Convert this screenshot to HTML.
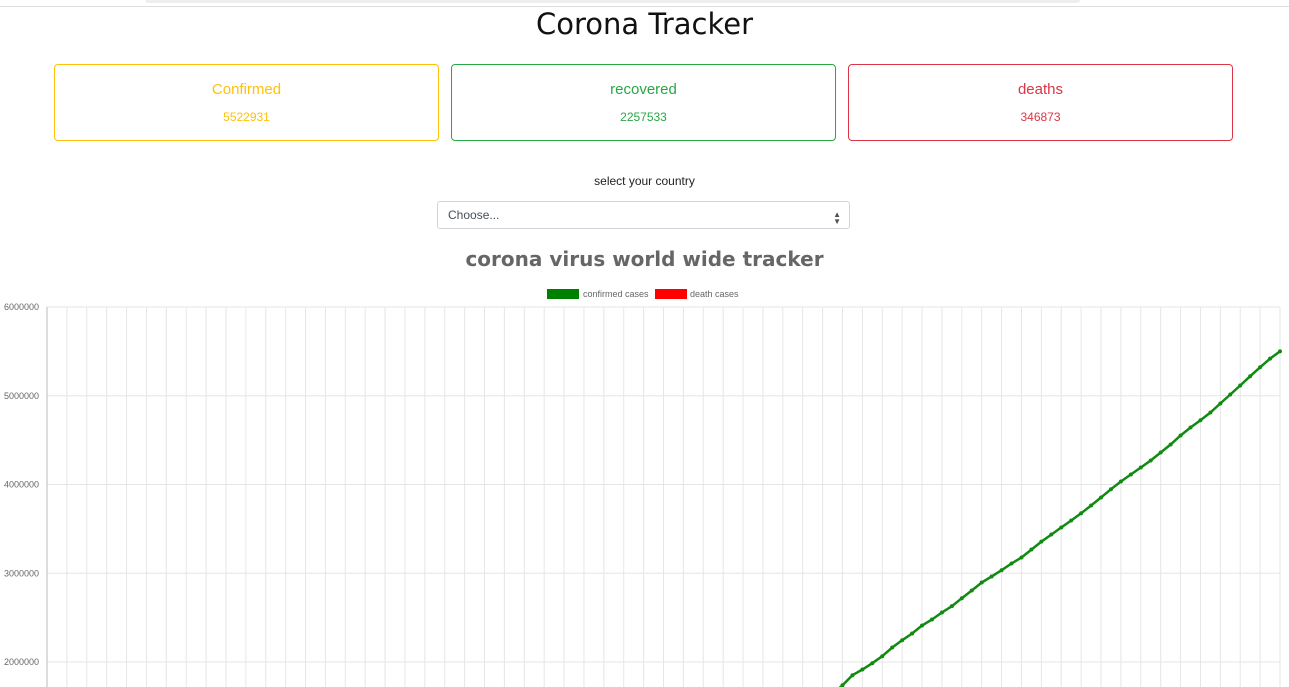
<!DOCTYPE html>
<html style="overflow:hidden;height:687px"><head><meta charset="utf-8">
<style>
body{margin:0;width:1289px;height:687px;overflow:hidden;background:#fff;font-family:"Liberation Sans",sans-serif;position:relative}
.abs{position:absolute}
.card{position:absolute;top:64px;width:385px;height:77px;border:1px solid;border-radius:4px;text-align:center;box-sizing:border-box}
.card .t{position:absolute;top:16px;width:100%;font-size:15px}
.card .v{position:absolute;top:45px;width:100%;font-size:12px}
</style></head><body>
<div class="abs" style="left:145px;top:0;width:935px;height:3px;background:#eee;border-radius:0 0 6px 6px"></div>
<div class="abs" style="left:0;top:6px;width:1289px;height:1px;background:#ddd"></div>
<div class="abs" style="left:0;top:7px;width:1289px;text-align:center;font-size:29px;color:#111;font-family:'DejaVu Sans',sans-serif">Corona Tracker</div>
<div class="card" style="left:54px;border-color:#ffc107;color:#ffc107"><div class="t">Confirmed</div><div class="v">5522931</div></div>
<div class="card" style="left:451px;border-color:#28a745;color:#28a745"><div class="t">recovered</div><div class="v">2257533</div></div>
<div class="card" style="left:848px;border-color:#dc3545;color:#dc3545"><div class="t">deaths</div><div class="v">346873</div></div>
<div class="abs" style="left:0;top:174px;width:1289px;text-align:center;font-size:12px;color:#222">select your country</div>
<div class="abs" style="left:437px;top:201px;width:411px;height:26px;border:1px solid #ced4da;border-radius:3px;font-size:12px;color:#495057;line-height:26px;box-sizing:content-box"><span style="margin-left:10px">Choose...</span><span style="position:absolute;right:8px;top:0;font-size:8px">&#9650;</span><span style="position:absolute;right:8px;top:7px;font-size:8px">&#9660;</span></div>
<div class="abs" style="left:0;top:247px;width:1289px;text-align:center;font-size:20px;font-weight:bold;color:#666;font-family:'DejaVu Sans',sans-serif">corona virus world wide tracker</div>
<svg class="abs" style="left:0;top:0;overflow:hidden" width="1289" height="687" id="chart">
<g id="legend" font-size="9" fill="#666" font-family="Liberation Sans,sans-serif">
<rect x="547" y="289" width="32" height="10" fill="green"/>
<text x="583" y="297">confirmed cases</text>
<rect x="655" y="289" width="32" height="10" fill="red"/>
<text x="690" y="297">death cases</text>
</g>
</svg>
<script>
const confirmedK=[0.6,0.6,0.9,1.4,2.1,2.9,5.6,6.2,8.2,9.9,
12,17,20,24,28,31,34,37,40,43,45,45,60,67,69,71,73,75,75,76,76,78,78,79,80,81,82,84,86,
88,90,93,95,98,102,106,110,114,119,126,126,146,157,168,182,198,219,245,272,305,337,379,418,468,530,594,661,721,782,860,
935,1016,1095,1177,1251,1321,1397,1470,1555,1640,
1738,1851,1915,1986,2065,2163,2245,2321,2411,2479,2558,2629,2719,2806,2896,2963,3034,3110,3177,3267,3357,3436,3515,3594,3676,3763,3853,3947,4034,4113,4192,4270,4361,4451,4552,4642,4724,4811,4913,5014,5115,5220,5321,5419,5500];
const deathsK=[0,0,0,0,0,0,0,0,0,0,0,0,0,0,1,1,1,1,1,1,1,1,1,1,1,2,2,2,2,2,2,2,2,3,3,3,3,3,3,
3,3,3,3,3,3,3,4,4,4,4,5,5,6,6,7,7,9,10,12,13,15,17,19,22,24,27,31,34,38,42,
47,53,59,65,70,75,82,88,96,103,
108,114,120,126,136,143,149,155,160,166,172,179,184,191,199,205,211,215,221,228,235,240,244,249,253,258,264,270,277,281,286,292,297,301,308,312,318,324,327,331,336,340,343,345,347];
const yTicks=[2000000,3000000,4000000,5000000,6000000];
const svg=document.getElementById('chart');
const NS='http://www.w3.org/2000/svg';
const x0=47,x1=1280,yTop=307,pxPerM=88.75;
function xs(i){return x0+i*(x1-x0)/(confirmedK.length-1);}
function ys(v){return yTop+(6000000-v)/1e6*pxPerM;}
function mk(t,a){const e=document.createElementNS(NS,t);for(const k in a)e.setAttribute(k,a[k]);svg.appendChild(e);return e;}
for(let i=0;i<confirmedK.length;i+=2){
 const l=mk('line',{x1:xs(i),x2:xs(i),y1:yTop,y2:687,stroke:'#e6e6e6','stroke-width':1});
 
 
}
yTicks.forEach(v=>{
 const l=mk('line',{x1:x0,x2:x1,y1:ys(v),y2:ys(v),stroke:'#e6e6e6','stroke-width':1});
 
 
 const t=mk('text',{x:39,y:ys(v)+3,'text-anchor':'end','font-size':9,fill:'#666','font-family':'Liberation Sans,sans-serif'});
 t.textContent=String(v);
 
 
});
const ax=mk('line',{x1:x0,x2:x0,y1:yTop,y2:687,stroke:'#bbb','stroke-width':1});


function series(arr,color,name){
 const pts=arr.map((v,i)=>xs(i).toFixed(1)+','+Math.min(ys(v*1000),700).toFixed(1)).join(' ');
 const p=mk('polyline',{points:pts,fill:'none',stroke:color,'stroke-width':2.5});
 
 
 arr.forEach((v,i)=>{
  const cy=ys(v*1000);
  if(cy>690) return;
  const c=mk('circle',{cx:xs(i),cy:cy,r:2,fill:color});
  
  
 });
}
series(deathsK,'red','deaths');
series(confirmedK,'#118a11','confirmed');
</script>
</body></html>
